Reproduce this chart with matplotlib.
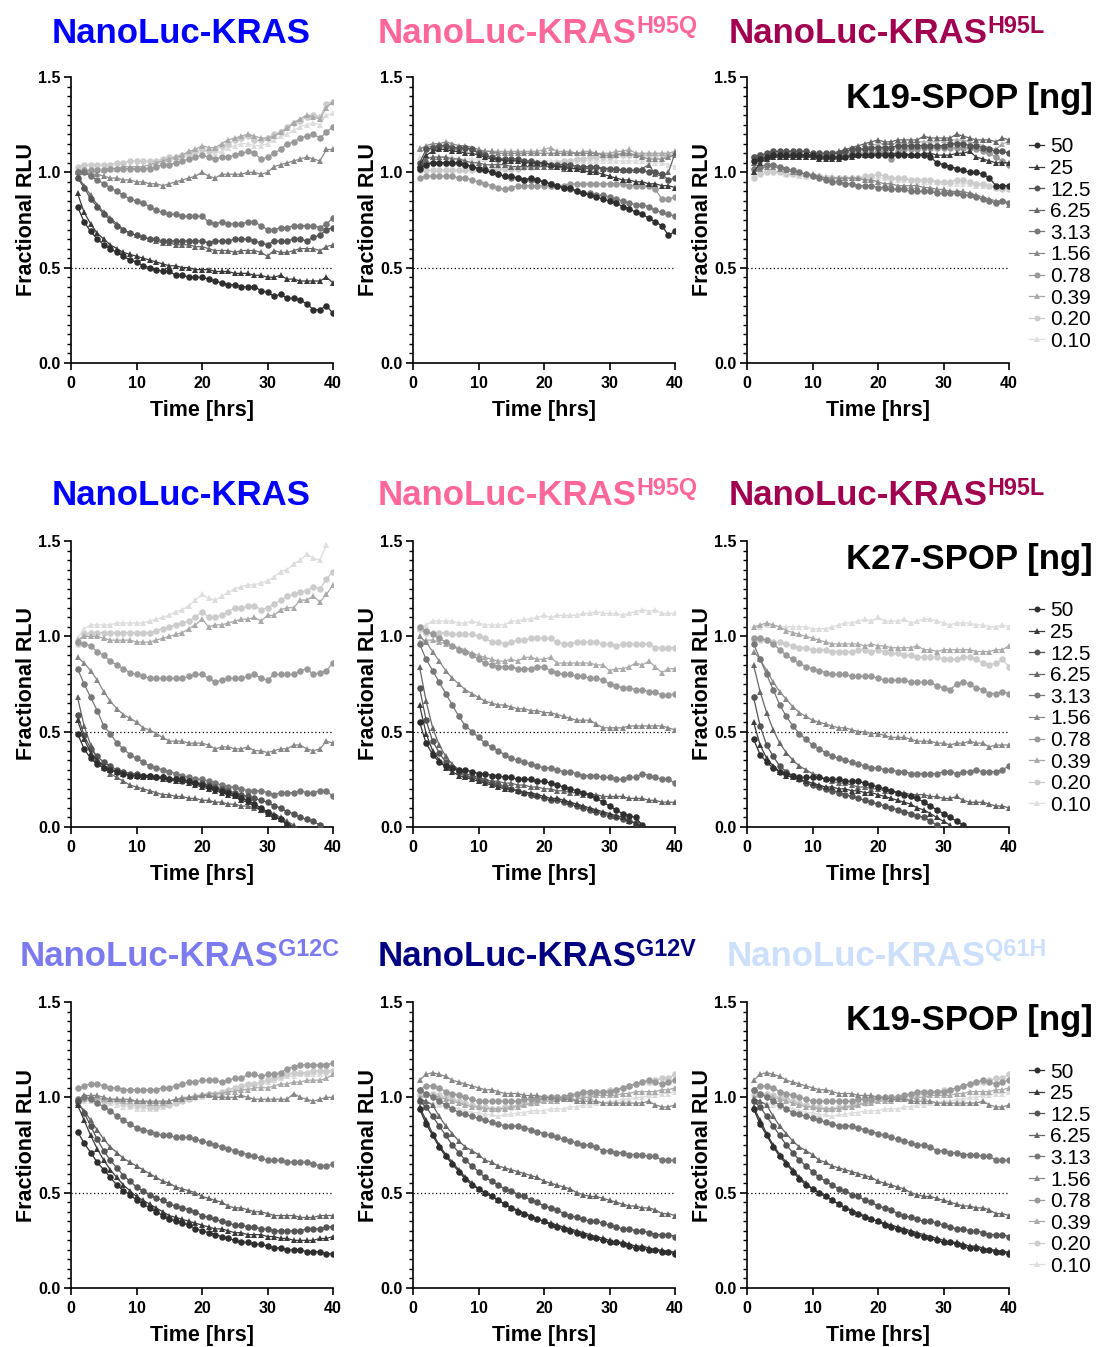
import numpy as np
import matplotlib
matplotlib.use('Agg')
import matplotlib.pyplot as plt
from matplotlib import font_manager
from matplotlib.lines import Line2D
from matplotlib.ticker import MultipleLocator, FormatStrFormatter

NA = np.nan

# K19/K27-SPOP amount per series [ng]
CONC = ['50', '25', '12.5', '6.25', '3.13', '1.56', '0.78', '0.39', '0.20', '0.10']

# Fractional RLU, one reading per hour (t = 1 .. 40), one list per SPOP amount
k19_wt = [
    [0.82, 0.74, 0.69, 0.65, 0.62, 0.60, 0.58, 0.56, 0.54, 0.53, 0.51, 0.50, 0.49, 0.48, 0.48, 0.46, 0.46, 0.45, 0.45, 0.45,
     0.44, 0.43, 0.42, 0.41, 0.41, 0.40, 0.40, 0.40, 0.38, 0.37, 0.35, 0.36, 0.34, 0.34, 0.33, 0.31, 0.28, 0.28, 0.30, 0.26],
    [0.89, 0.79, 0.73, 0.68, 0.65, 0.62, 0.60, 0.58, 0.57, 0.56, 0.55, 0.54, 0.53, 0.52, 0.51, 0.51, 0.50, 0.50, 0.49, 0.49,
     0.49, 0.48, 0.48, 0.48, 0.47, 0.47, 0.47, 0.46, 0.46, 0.45, 0.45, 0.46, 0.44, 0.44, 0.43, 0.43, 0.43, 0.43, 0.45, 0.42],
    [0.97, 0.92, 0.86, 0.82, 0.78, 0.75, 0.72, 0.70, 0.68, 0.67, 0.66, 0.65, 0.65, 0.64, 0.64, 0.64, 0.64, 0.64, 0.64, 0.64,
     0.63, 0.64, 0.64, 0.64, 0.65, 0.65, 0.65, 0.64, 0.63, 0.62, 0.64, 0.64, 0.64, 0.65, 0.65, 0.64, 0.66, 0.67, 0.70, 0.71],
    [0.98, 0.93, 0.88, 0.83, 0.79, 0.76, 0.73, 0.70, 0.68, 0.67, 0.66, 0.65, 0.64, 0.63, 0.63, 0.62, 0.62, 0.62, 0.61, 0.61,
     0.60, 0.59, 0.59, 0.59, 0.58, 0.59, 0.59, 0.59, 0.58, 0.56, 0.59, 0.58, 0.58, 0.59, 0.60, 0.60, 0.60, 0.59, 0.61, 0.62],
    [1.00, 1.00, 0.98, 0.96, 0.94, 0.92, 0.90, 0.88, 0.86, 0.85, 0.84, 0.82, 0.80, 0.79, 0.78, 0.78, 0.77, 0.77, 0.77, 0.77,
     0.74, 0.73, 0.74, 0.73, 0.73, 0.73, 0.74, 0.74, 0.72, 0.70, 0.70, 0.71, 0.71, 0.72, 0.72, 0.72, 0.72, 0.71, 0.73, 0.76],
    [1.00, 1.00, 0.99, 0.99, 0.98, 0.97, 0.97, 0.96, 0.96, 0.95, 0.95, 0.94, 0.94, 0.93, 0.94, 0.95, 0.96, 0.97, 0.98, 1.00,
     0.98, 0.97, 0.99, 0.99, 0.99, 0.99, 1.00, 1.00, 0.99, 1.00, 1.03, 1.04, 1.05, 1.06, 1.07, 1.08, 1.07, 1.06, 1.12, 1.12],
    [1.00, 1.01, 1.01, 1.01, 1.01, 1.02, 1.02, 1.02, 1.02, 1.02, 1.02, 1.02, 1.03, 1.04, 1.04, 1.05, 1.06, 1.07, 1.08, 1.09,
     1.08, 1.07, 1.08, 1.08, 1.09, 1.10, 1.11, 1.10, 1.07, 1.08, 1.10, 1.12, 1.15, 1.16, 1.18, 1.19, 1.20, 1.18, 1.21, 1.24],
    [1.01, 1.01, 1.01, 1.01, 1.01, 1.02, 1.02, 1.03, 1.03, 1.03, 1.03, 1.04, 1.05, 1.06, 1.07, 1.08, 1.09, 1.11, 1.12, 1.14,
     1.13, 1.13, 1.15, 1.17, 1.18, 1.19, 1.20, 1.19, 1.18, 1.18, 1.19, 1.21, 1.23, 1.26, 1.28, 1.30, 1.29, 1.28, 1.34, 1.37],
    [1.03, 1.04, 1.04, 1.04, 1.04, 1.04, 1.05, 1.05, 1.06, 1.06, 1.06, 1.06, 1.06, 1.07, 1.08, 1.08, 1.09, 1.10, 1.11, 1.12,
     1.11, 1.12, 1.14, 1.15, 1.17, 1.18, 1.19, 1.17, 1.17, 1.18, 1.20, 1.21, 1.24, 1.26, 1.27, 1.29, 1.30, 1.29, 1.36, 1.37],
    [0.97, 1.00, 1.01, 1.02, 1.02, 1.02, 1.02, 1.03, 1.03, 1.03, 1.03, 1.04, 1.04, 1.05, 1.06, 1.07, 1.08, 1.09, 1.10, 1.11,
     1.11, 1.10, 1.11, 1.13, 1.14, 1.15, 1.15, 1.14, 1.14, 1.15, 1.17, 1.19, 1.20, 1.22, 1.24, 1.25, 1.26, 1.25, 1.30, 1.31],
]

k19_h95q = [
    [1.02, 1.04, 1.05, 1.05, 1.05, 1.05, 1.05, 1.04, 1.03, 1.02, 1.01, 1.00, 0.99, 0.98, 0.98, 0.97, 0.96, 0.97, 0.96, 0.95,
     0.94, 0.93, 0.92, 0.92, 0.90, 0.89, 0.88, 0.87, 0.86, 0.85, 0.84, 0.82, 0.81, 0.79, 0.78, 0.76, 0.74, 0.72, 0.67, 0.69],
    [1.04, 1.09, 1.11, 1.12, 1.12, 1.11, 1.11, 1.10, 1.10, 1.09, 1.08, 1.07, 1.07, 1.06, 1.06, 1.06, 1.05, 1.05, 1.05, 1.05,
     1.04, 1.03, 1.03, 1.02, 1.02, 1.01, 1.00, 1.00, 0.99, 0.98, 0.97, 0.96, 0.96, 0.95, 0.95, 0.94, 0.94, 0.93, 0.93, 0.92],
    [1.05, 1.12, 1.13, 1.14, 1.14, 1.13, 1.13, 1.13, 1.12, 1.10, 1.09, 1.08, 1.07, 1.07, 1.07, 1.07, 1.06, 1.06, 1.05, 1.05,
     1.04, 1.04, 1.04, 1.04, 1.03, 1.03, 1.03, 1.03, 1.02, 1.02, 1.02, 1.01, 1.01, 1.01, 1.01, 1.00, 1.00, 0.99, 0.96, 0.97],
    [1.04, 1.07, 1.08, 1.08, 1.08, 1.07, 1.07, 1.06, 1.05, 1.05, 1.04, 1.04, 1.04, 1.04, 1.03, 1.03, 1.03, 1.03, 1.03, 1.03,
     1.03, 1.03, 1.02, 1.02, 1.02, 1.02, 1.02, 1.02, 1.02, 1.02, 1.01, 1.01, 1.01, 1.01, 1.02, 1.04, 0.99, 0.98, 1.00, 1.10],
    [1.03, 1.05, 1.05, 1.05, 1.05, 1.05, 1.05, 1.04, 1.03, 1.02, 1.01, 1.00, 0.99, 0.98, 0.97, 0.97, 0.96, 0.96, 0.96, 0.95,
     0.94, 0.93, 0.92, 0.91, 0.90, 0.89, 0.89, 0.88, 0.88, 0.87, 0.86, 0.85, 0.84, 0.83, 0.83, 0.82, 0.80, 0.79, 0.78, 0.77],
    [1.12, 1.14, 1.15, 1.15, 1.16, 1.15, 1.14, 1.14, 1.13, 1.12, 1.11, 1.11, 1.10, 1.10, 1.10, 1.10, 1.10, 1.10, 1.10, 1.10,
     1.10, 1.10, 1.10, 1.10, 1.10, 1.10, 1.10, 1.10, 1.09, 1.09, 1.09, 1.10, 1.10, 1.09, 1.08, 1.07, 1.07, 1.07, 1.08, 1.09],
    [0.97, 0.98, 0.98, 0.98, 0.98, 0.98, 0.97, 0.97, 0.96, 0.95, 0.94, 0.93, 0.92, 0.91, 0.92, 0.93, 0.93, 0.93, 0.93, 0.93,
     0.93, 0.93, 0.93, 0.94, 0.94, 0.94, 0.94, 0.94, 0.94, 0.94, 0.94, 0.94, 0.93, 0.93, 0.93, 0.93, 0.91, 0.86, 0.86, 0.87],
    [1.13, 1.13, 1.14, 1.14, 1.14, 1.13, 1.13, 1.12, 1.12, 1.11, 1.11, 1.11, 1.11, 1.11, 1.11, 1.11, 1.11, 1.11, 1.11, 1.12,
     1.13, 1.11, 1.11, 1.11, 1.10, 1.11, 1.11, 1.10, 1.10, 1.10, 1.11, 1.11, 1.12, 1.10, 1.10, 1.10, 1.10, 1.10, 1.10, 1.11],
    [1.01, 1.01, 1.01, 1.01, 1.01, 1.01, 1.01, 1.01, 1.01, 1.01, 1.01, 1.01, 1.02, 1.02, 1.02, 1.02, 1.03, 1.03, 1.04, 1.04,
     1.04, 1.05, 1.06, 1.06, 1.07, 1.07, 1.08, 1.08, 1.08, 1.08, 1.09, 1.09, 1.09, 1.09, 1.09, 1.09, 1.09, 1.09, 1.09, 1.10],
    [1.08, 1.08, 1.08, 1.08, 1.08, 1.08, 1.07, 1.07, 1.07, 1.07, 1.07, 1.07, 1.06, 1.06, 1.06, 1.06, 1.06, 1.06, 1.06, 1.06,
     1.06, 1.06, 1.06, 1.06, 1.06, 1.06, 1.06, 1.06, 1.06, 1.06, 1.06, 1.06, 1.06, 1.06, 1.06, 1.06, 1.05, 1.05, 1.04, 1.03],
]

k19_h95l = [
    [1.06, 1.07, 1.08, 1.09, 1.09, 1.09, 1.09, 1.09, 1.09, 1.09, 1.08, 1.08, 1.08, 1.08, 1.08, 1.09, 1.09, 1.09, 1.09, 1.09,
     1.09, 1.09, 1.09, 1.09, 1.09, 1.09, 1.09, 1.08, 1.05, 1.04, 1.03, 1.02, 1.01, 1.00, 1.00, 0.99, 0.97, 0.93, 0.93, 0.93],
    [1.00, 1.05, 1.07, 1.08, 1.08, 1.08, 1.08, 1.08, 1.08, 1.08, 1.07, 1.07, 1.07, 1.07, 1.08, 1.08, 1.09, 1.09, 1.09, 1.10,
     1.10, 1.10, 1.10, 1.10, 1.09, 1.09, 1.10, 1.10, 1.09, 1.09, 1.09, 1.10, 1.10, 1.11, 1.08, 1.07, 1.06, 1.05, 1.05, 1.05],
    [1.08, 1.09, 1.10, 1.11, 1.11, 1.11, 1.11, 1.11, 1.11, 1.10, 1.10, 1.10, 1.10, 1.10, 1.11, 1.12, 1.12, 1.12, 1.13, 1.13,
     1.13, 1.13, 1.14, 1.14, 1.14, 1.14, 1.14, 1.14, 1.14, 1.14, 1.15, 1.15, 1.15, 1.14, 1.14, 1.13, 1.12, 1.11, 1.11, 1.10],
    [1.05, 1.07, 1.08, 1.09, 1.09, 1.09, 1.09, 1.09, 1.09, 1.09, 1.09, 1.09, 1.10, 1.11, 1.12, 1.13, 1.14, 1.15, 1.16, 1.17,
     1.16, 1.16, 1.17, 1.17, 1.17, 1.17, 1.19, 1.18, 1.18, 1.18, 1.18, 1.20, 1.19, 1.18, 1.17, 1.17, 1.17, 1.16, 1.18, 1.17],
    [1.02, 1.03, 1.04, 1.04, 1.03, 1.02, 1.01, 1.00, 0.99, 0.98, 0.97, 0.96, 0.95, 0.95, 0.94, 0.94, 0.93, 0.93, 0.93, 0.92,
     0.92, 0.91, 0.91, 0.91, 0.90, 0.90, 0.90, 0.90, 0.89, 0.89, 0.89, 0.89, 0.88, 0.88, 0.87, 0.86, 0.85, 0.84, 0.85, 0.84],
    [1.00, 1.02, 1.03, 1.03, 1.02, 1.01, 1.00, 1.00, 0.99, 0.99, 0.98, 0.97, 0.97, 0.97, 0.97, 0.97, 0.97, 0.96, 0.96, 0.95,
     0.94, 0.94, 0.93, 0.93, 0.93, 0.93, 0.92, 0.92, 0.91, 0.91, 0.90, 0.90, 0.90, 0.89, 0.88, 0.87, 0.86, 0.85, 0.85, 0.83],
    [1.08, 1.09, 1.09, 1.10, 1.10, 1.10, 1.10, 1.10, 1.09, 1.09, 1.08, 1.08, 1.08, 1.08, 1.09, 1.10, 1.10, 1.10, 1.10, 1.11,
     1.11, 1.07, 1.11, 1.12, 1.12, 1.12, 1.13, 1.13, 1.13, 1.13, 1.13, 1.13, 1.13, 1.13, 1.12, 1.11, 1.10, 1.08, 1.06, 1.04],
    [1.03, 1.06, 1.07, 1.08, 1.08, 1.08, 1.08, 1.08, 1.08, 1.08, 1.08, 1.08, 1.08, 1.09, 1.10, 1.11, 1.12, 1.13, 1.14, 1.15,
     1.15, 1.15, 1.15, 1.15, 1.15, 1.16, 1.16, 1.16, 1.16, 1.17, 1.17, 1.17, 1.17, 1.16, 1.15, 1.14, 1.13, 1.12, 1.15, 1.16],
    [0.97, 0.99, 1.00, 1.00, 1.00, 0.99, 0.99, 0.99, 0.98, 0.98, 0.98, 0.97, 0.97, 0.97, 0.97, 0.97, 0.97, 0.98, 0.98, 0.99,
     0.98, 0.97, 0.97, 0.97, 0.96, 0.96, 0.96, 0.96, 0.95, 0.95, 0.95, 0.96, 0.96, 0.95, 0.94, 0.94, 0.93, 0.92, 0.91, 0.91],
    [0.99, 1.00, 1.01, 1.01, 1.00, 0.99, 0.99, 0.98, 0.98, 0.98, 0.98, 0.98, 0.98, 0.97, 0.97, 0.97, 0.97, 0.97, 0.97, 0.97,
     0.97, 0.96, 0.96, 0.96, 0.96, 0.95, 0.95, 0.95, 0.95, 0.95, 0.94, 0.94, 0.94, 0.94, 0.93, 0.93, 0.93, 0.92, 0.92, 0.91],
]

# below 0.0 the readings fall off the axis
k27_wt = [
    [0.49, 0.41, 0.36, 0.33, 0.31, 0.30, 0.29, 0.28, 0.27, 0.27, 0.27, 0.27, 0.26, 0.26, 0.25, 0.25, 0.25, 0.24, 0.23, 0.22,
     0.21, 0.20, 0.19, 0.18, 0.17, 0.15, 0.14, 0.12, 0.10, 0.08, 0.06, 0.04, 0.01] + [NA] * 7,
    [0.56, 0.46, 0.39, 0.35, 0.32, 0.30, 0.29, 0.28, 0.27, 0.27, 0.26, 0.26, 0.26, 0.25, 0.25, 0.24, 0.24, 0.23, 0.22, 0.21,
     0.20, 0.19, 0.18, 0.17, 0.16, 0.14, 0.13, 0.11, 0.09, 0.07, 0.05, 0.04, 0.02, 0.00] + [NA] * 6,
    [0.59, 0.48, 0.41, 0.37, 0.34, 0.32, 0.30, 0.29, 0.28, 0.28, 0.27, 0.27, 0.26, 0.26, 0.25, 0.25, 0.24, 0.24, 0.23, 0.23,
     0.22, 0.21, 0.20, 0.19, 0.18, 0.17, 0.16, 0.15, 0.14, 0.13, 0.11, 0.10, 0.08, 0.07, 0.05, 0.04, 0.03, 0.01, NA, NA],
    [0.68, 0.53, 0.43, 0.36, 0.31, 0.28, 0.26, 0.24, 0.22, 0.21, 0.20, 0.19, 0.18, 0.17, 0.17, 0.16, 0.16, 0.15, 0.15, 0.14,
     0.14, 0.13, 0.13, 0.12, 0.12, 0.11, 0.11, 0.10, 0.09, 0.08, 0.07, 0.05, 0.03, 0.01] + [NA] * 6,
    [0.83, 0.75, 0.68, 0.61, 0.53, 0.49, 0.44, 0.41, 0.38, 0.36, 0.34, 0.32, 0.31, 0.30, 0.29, 0.28, 0.27, 0.26, 0.25, 0.25,
     0.24, 0.23, 0.22, 0.21, 0.21, 0.20, 0.19, 0.19, 0.19, 0.18, 0.17, 0.18, 0.18, 0.18, 0.19, 0.18, 0.18, 0.19, 0.19, 0.16],
    [0.89, 0.86, 0.82, 0.77, 0.71, 0.66, 0.62, 0.59, 0.57, 0.55, 0.52, 0.51, 0.49, 0.47, 0.45, 0.45, 0.45, 0.44, 0.44, 0.44,
     0.43, 0.41, 0.42, 0.42, 0.41, 0.41, 0.42, 0.40, 0.40, 0.39, 0.40, 0.41, 0.41, 0.43, 0.43, 0.41, 0.40, 0.41, 0.45, 0.44],
    [0.97, 0.96, 0.95, 0.92, 0.90, 0.87, 0.85, 0.83, 0.81, 0.80, 0.79, 0.78, 0.78, 0.78, 0.78, 0.78, 0.78, 0.79, 0.80, 0.80,
     0.78, 0.76, 0.77, 0.78, 0.78, 0.78, 0.79, 0.80, 0.78, 0.77, 0.80, 0.80, 0.80, 0.80, 0.82, 0.83, 0.80, 0.81, 0.82, 0.86],
    [0.98, 1.00, 1.00, 1.00, 0.99, 0.98, 0.98, 0.98, 0.98, 0.97, 0.97, 0.97, 0.98, 0.99, 1.00, 1.01, 1.02, 1.04, 1.06, 1.09,
     1.05, 1.06, 1.06, 1.07, 1.08, 1.09, 1.09, 1.10, 1.08, 1.11, 1.11, 1.14, 1.15, 1.15, 1.19, 1.19, 1.21, 1.18, 1.22, 1.27],
    [0.96, 1.01, 1.02, 1.02, 1.02, 1.02, 1.02, 1.02, 1.02, 1.02, 1.02, 1.02, 1.03, 1.04, 1.05, 1.06, 1.07, 1.08, 1.10, 1.13,
     1.10, 1.10, 1.11, 1.13, 1.15, 1.15, 1.16, 1.16, 1.14, 1.15, 1.17, 1.19, 1.21, 1.22, 1.23, 1.24, 1.26, 1.25, 1.30, 1.34],
    [0.99, 1.04, 1.06, 1.06, 1.06, 1.06, 1.07, 1.07, 1.07, 1.07, 1.07, 1.08, 1.09, 1.10, 1.11, 1.13, 1.14, 1.16, 1.19, 1.22,
     1.20, 1.19, 1.21, 1.23, 1.25, 1.26, 1.27, 1.27, 1.28, 1.29, 1.31, 1.34, 1.35, 1.38, 1.40, 1.43, 1.41, 1.40, 1.48, NA],
]

k27_h95q = [
    [0.55, 0.44, 0.38, 0.34, 0.32, 0.31, 0.30, 0.30, 0.29, 0.28, 0.28, 0.27, 0.27, 0.26, 0.26, 0.25, 0.25, 0.25, 0.24, 0.24,
     0.23, 0.22, 0.21, 0.20, 0.19, 0.18, 0.17, 0.15, 0.13, 0.11, 0.09, 0.07, 0.06, 0.05, 0.01] + [NA] * 5,
    [0.64, 0.49, 0.40, 0.35, 0.31, 0.29, 0.27, 0.26, 0.25, 0.24, 0.23, 0.22, 0.21, 0.20, 0.20, 0.19, 0.18, 0.18, 0.17, 0.16,
     0.15, 0.15, 0.14, 0.13, 0.12, 0.11, 0.10, 0.09, 0.08, 0.07, 0.06, 0.05, 0.03, 0.02, 0.00] + [NA] * 5,
    [0.73, 0.56, 0.45, 0.39, 0.34, 0.31, 0.29, 0.27, 0.26, 0.25, 0.24, 0.23, 0.22, 0.21, 0.20, 0.19, 0.18, 0.17, 0.16, 0.15,
     0.14, 0.14, 0.13, 0.12, 0.11, 0.10, 0.09, 0.08, 0.07, 0.06, 0.05, 0.04, 0.03, 0.02] + [NA] * 6,
    [0.84, 0.66, 0.52, 0.43, 0.37, 0.33, 0.30, 0.28, 0.27, 0.26, 0.25, 0.24, 0.24, 0.23, 0.23, 0.22, 0.22, 0.21, 0.21, 0.20,
     0.20, 0.19, 0.19, 0.18, 0.18, 0.17, 0.17, 0.17, 0.16, 0.16, 0.16, 0.16, 0.15, 0.15, 0.15, 0.14, 0.14, 0.13, 0.13, 0.13],
    [0.96, 0.88, 0.82, 0.76, 0.70, 0.64, 0.58, 0.53, 0.50, 0.47, 0.44, 0.42, 0.40, 0.38, 0.36, 0.35, 0.34, 0.33, 0.32, 0.31,
     0.31, 0.30, 0.29, 0.29, 0.28, 0.27, 0.27, 0.27, 0.26, 0.26, 0.25, 0.25, 0.26, 0.26, 0.28, 0.27, 0.26, 0.25, 0.25, 0.23],
    [1.00, 0.97, 0.92, 0.87, 0.82, 0.78, 0.75, 0.72, 0.70, 0.68, 0.66, 0.65, 0.64, 0.64, 0.63, 0.62, 0.62, 0.61, 0.61, 0.60,
     0.60, 0.59, 0.58, 0.57, 0.56, 0.56, 0.56, 0.54, 0.52, 0.52, 0.52, 0.52, 0.53, 0.53, 0.53, 0.53, 0.53, 0.53, 0.52, 0.51],
    [1.05, 1.03, 1.01, 0.99, 0.97, 0.95, 0.93, 0.92, 0.90, 0.88, 0.86, 0.85, 0.84, 0.84, 0.84, 0.83, 0.83, 0.83, 0.84, 0.84,
     0.82, 0.81, 0.80, 0.80, 0.79, 0.79, 0.78, 0.78, 0.77, 0.75, 0.74, 0.73, 0.73, 0.72, 0.72, 0.71, 0.71, 0.69, 0.69, 0.70],
    [0.97, 0.98, 0.98, 0.97, 0.96, 0.95, 0.94, 0.93, 0.91, 0.90, 0.89, 0.88, 0.87, 0.87, 0.88, 0.87, 0.89, 0.89, 0.88, 0.88,
     0.89, 0.86, 0.86, 0.86, 0.86, 0.86, 0.86, 0.85, 0.85, 0.82, 0.83, 0.83, 0.84, 0.86, 0.85, 0.87, 0.84, 0.81, 0.83, 0.83],
    [1.04, 1.02, 1.02, 1.02, 1.02, 1.01, 1.01, 1.01, 1.01, 1.00, 0.99, 0.97, 0.97, 0.96, 0.97, 0.98, 0.98, 0.99, 0.99, 0.99,
     0.99, 0.97, 0.96, 0.96, 0.97, 0.97, 0.97, 0.97, 0.96, 0.96, 0.95, 0.96, 0.96, 0.96, 0.96, 0.96, 0.94, 0.94, 0.94, 0.94],
    [1.04, 1.06, 1.08, 1.08, 1.08, 1.08, 1.07, 1.07, 1.08, 1.07, 1.06, 1.06, 1.06, 1.06, 1.08, 1.08, 1.09, 1.09, 1.10, 1.11,
     1.10, 1.11, 1.11, 1.11, 1.11, 1.12, 1.12, 1.13, 1.12, 1.12, 1.12, 1.11, 1.12, 1.13, 1.14, 1.13, 1.14, 1.12, 1.12, 1.12],
]

k27_h95l = [
    [0.46, 0.38, 0.34, 0.31, 0.29, 0.28, 0.27, 0.26, 0.26, 0.26, 0.26, 0.25, 0.25, 0.25, 0.24, 0.24, 0.24, 0.23, 0.22, 0.21,
     0.20, 0.19, 0.18, 0.17, 0.16, 0.15, 0.13, 0.11, 0.09, 0.07, 0.05, 0.03, 0.01] + [NA] * 7,
    [0.55, 0.43, 0.36, 0.32, 0.29, 0.27, 0.26, 0.25, 0.24, 0.23, 0.22, 0.21, 0.21, 0.20, 0.20, 0.19, 0.19, 0.18, 0.18, 0.17,
     0.16, 0.15, 0.14, 0.13, 0.12, 0.10, 0.09, 0.07, 0.05, 0.03, 0.01] + [NA] * 9,
    [0.68, 0.53, 0.43, 0.37, 0.32, 0.29, 0.27, 0.25, 0.23, 0.22, 0.21, 0.20, 0.19, 0.18, 0.17, 0.16, 0.15, 0.14, 0.13, 0.12,
     0.11, 0.10, 0.09, 0.08, 0.07, 0.06, 0.05, 0.03, 0.01] + [NA] * 11,
    [0.85, 0.71, 0.60, 0.51, 0.44, 0.39, 0.35, 0.32, 0.30, 0.28, 0.27, 0.25, 0.24, 0.23, 0.23, 0.22, 0.21, 0.21, 0.20, 0.20,
     0.19, 0.19, 0.18, 0.18, 0.17, 0.17, 0.17, 0.16, 0.16, 0.15, 0.15, 0.16, 0.14, 0.13, 0.13, 0.13, 0.12, 0.11, 0.11, 0.10],
    [0.96, 0.88, 0.80, 0.72, 0.64, 0.58, 0.53, 0.49, 0.46, 0.43, 0.41, 0.39, 0.37, 0.36, 0.35, 0.34, 0.33, 0.32, 0.31, 0.31,
     0.30, 0.30, 0.29, 0.29, 0.28, 0.28, 0.28, 0.28, 0.28, 0.29, 0.29, 0.28, 0.29, 0.29, 0.30, 0.29, 0.29, 0.29, 0.30, 0.32],
    [0.92, 0.88, 0.82, 0.76, 0.71, 0.67, 0.63, 0.60, 0.58, 0.56, 0.55, 0.54, 0.53, 0.52, 0.52, 0.51, 0.50, 0.50, 0.49, 0.49,
     0.48, 0.47, 0.47, 0.47, 0.46, 0.45, 0.45, 0.45, 0.44, 0.44, 0.43, 0.44, 0.44, 0.45, 0.44, 0.44, 0.42, 0.43, 0.43, 0.43],
    [0.99, 0.99, 0.98, 0.96, 0.93, 0.90, 0.88, 0.86, 0.84, 0.83, 0.82, 0.81, 0.80, 0.80, 0.80, 0.79, 0.79, 0.79, 0.79, 0.78,
     0.77, 0.77, 0.77, 0.77, 0.76, 0.76, 0.76, 0.76, 0.74, 0.73, 0.72, 0.75, 0.76, 0.75, 0.73, 0.72, 0.70, 0.70, 0.71, 0.70],
    [1.05, 1.06, 1.07, 1.06, 1.05, 1.03, 1.02, 1.01, 1.00, 0.99, 0.98, 0.97, 0.96, 0.96, 0.96, 0.96, 0.96, 0.95, 0.96, 0.95,
     0.95, 0.94, 0.94, 0.94, 0.94, 0.95, 0.93, 0.93, 0.92, 0.93, 0.93, 0.93, 0.93, 0.93, 0.92, 0.92, 0.92, 0.93, 0.93, 0.95],
    [0.98, 0.98, 0.98, 0.97, 0.97, 0.96, 0.95, 0.94, 0.94, 0.93, 0.93, 0.93, 0.92, 0.92, 0.92, 0.92, 0.93, 0.93, 0.92, 0.93,
     0.92, 0.91, 0.91, 0.90, 0.90, 0.89, 0.89, 0.89, 0.89, 0.88, 0.88, 0.88, 0.89, 0.89, 0.88, 0.86, 0.85, 0.86, 0.88, 0.84],
    [1.05, 1.05, 1.06, 1.06, 1.05, 1.05, 1.05, 1.05, 1.05, 1.04, 1.04, 1.04, 1.05, 1.06, 1.07, 1.07, 1.08, 1.09, 1.08, 1.10,
     1.08, 1.08, 1.08, 1.09, 1.07, 1.08, 1.09, 1.09, 1.08, 1.07, 1.06, 1.07, 1.07, 1.07, 1.06, 1.06, 1.05, 1.05, 1.06, 1.05],
]

k19_g12c = [
    [0.82, 0.76, 0.71, 0.66, 0.62, 0.58, 0.54, 0.51, 0.49, 0.46, 0.44, 0.42, 0.40, 0.38, 0.36, 0.35, 0.34, 0.33, 0.31, 0.30,
     0.29, 0.28, 0.27, 0.26, 0.25, 0.24, 0.24, 0.23, 0.23, 0.22, 0.21, 0.21, 0.20, 0.20, 0.20, 0.19, 0.19, 0.19, 0.18, 0.18],
    [0.96, 0.88, 0.80, 0.73, 0.67, 0.62, 0.58, 0.54, 0.51, 0.48, 0.46, 0.44, 0.42, 0.40, 0.38, 0.37, 0.36, 0.35, 0.34, 0.33,
     0.32, 0.31, 0.31, 0.30, 0.29, 0.29, 0.28, 0.28, 0.28, 0.27, 0.27, 0.26, 0.26, 0.25, 0.25, 0.25, 0.25, 0.26, 0.26, 0.27],
    [0.98, 0.92, 0.85, 0.78, 0.72, 0.67, 0.63, 0.59, 0.56, 0.53, 0.51, 0.49, 0.47, 0.46, 0.44, 0.43, 0.42, 0.41, 0.40, 0.38,
     0.37, 0.36, 0.35, 0.34, 0.33, 0.33, 0.32, 0.32, 0.31, 0.31, 0.30, 0.30, 0.30, 0.30, 0.30, 0.31, 0.31, 0.31, 0.32, 0.32],
    [0.97, 0.93, 0.88, 0.83, 0.78, 0.74, 0.71, 0.68, 0.66, 0.64, 0.62, 0.60, 0.58, 0.56, 0.55, 0.53, 0.52, 0.51, 0.50, 0.48,
     0.47, 0.46, 0.45, 0.43, 0.42, 0.42, 0.41, 0.40, 0.40, 0.39, 0.38, 0.38, 0.38, 0.38, 0.37, 0.37, 0.37, 0.38, 0.38, 0.38],
    [0.99, 1.00, 0.99, 0.97, 0.95, 0.93, 0.90, 0.88, 0.86, 0.84, 0.83, 0.82, 0.81, 0.80, 0.80, 0.79, 0.79, 0.79, 0.78, 0.77,
     0.76, 0.75, 0.74, 0.73, 0.72, 0.71, 0.70, 0.69, 0.68, 0.67, 0.67, 0.67, 0.66, 0.66, 0.66, 0.66, 0.65, 0.64, 0.64, 0.65],
    [0.98, 1.01, 1.01, 1.01, 1.00, 0.99, 0.99, 0.99, 0.99, 0.98, 0.98, 0.98, 0.98, 0.98, 0.98, 0.99, 0.99, 1.00, 1.00, 1.01,
     1.01, 1.00, 1.00, 1.00, 1.00, 1.01, 1.00, 0.99, 0.99, 0.99, 0.99, 0.99, 0.99, 1.02, 1.00, 0.99, 0.98, 0.99, 1.00, 1.00],
    [1.05, 1.06, 1.07, 1.07, 1.06, 1.05, 1.05, 1.04, 1.04, 1.04, 1.04, 1.04, 1.04, 1.05, 1.05, 1.06, 1.07, 1.08, 1.08, 1.09,
     1.09, 1.09, 1.08, 1.09, 1.10, 1.10, 1.12, 1.12, 1.11, 1.12, 1.12, 1.13, 1.15, 1.16, 1.17, 1.17, 1.17, 1.17, 1.17, 1.18],
    [0.99, 0.99, 1.00, 1.00, 0.99, 0.99, 0.99, 0.98, 0.98, 0.98, 0.98, 0.97, 0.97, 0.97, 0.98, 0.99, 1.00, 1.00, 1.01, 1.01,
     1.02, 1.02, 1.02, 1.03, 1.03, 1.04, 1.04, 1.05, 1.05, 1.05, 1.06, 1.07, 1.07, 1.08, 1.08, 1.09, 1.09, 1.09, 1.10, 1.12],
    [0.98, 0.99, 0.99, 0.99, 0.98, 0.98, 0.98, 0.97, 0.96, 0.96, 0.96, 0.95, 0.95, 0.96, 0.96, 0.97, 0.98, 0.99, 1.00, 1.01,
     1.02, 1.02, 1.03, 1.04, 1.05, 1.06, 1.07, 1.07, 1.08, 1.09, 1.10, 1.11, 1.12, 1.13, 1.13, 1.13, 1.14, 1.14, 1.14, 1.14],
    [0.97, 0.98, 0.98, 0.98, 0.97, 0.97, 0.96, 0.95, 0.95, 0.94, 0.94, 0.94, 0.94, 0.95, 0.96, 0.97, 0.98, 0.99, 1.00, 1.00,
     1.01, 1.02, 1.03, 1.04, 1.05, 1.05, 1.06, 1.07, 1.07, 1.08, 1.09, 1.10, 1.11, 1.11, 1.12, 1.12, 1.12, 1.12, 1.13, 1.13],
]

k19_g12v = [
    [0.94, 0.86, 0.80, 0.74, 0.69, 0.65, 0.61, 0.57, 0.54, 0.52, 0.50, 0.48, 0.46, 0.44, 0.42, 0.40, 0.39, 0.37, 0.36, 0.35,
     0.33, 0.32, 0.31, 0.30, 0.29, 0.28, 0.27, 0.26, 0.25, 0.24, 0.24, 0.23, 0.22, 0.21, 0.21, 0.20, 0.20, 0.19, 0.19, 0.18],
    [0.95, 0.88, 0.81, 0.75, 0.70, 0.66, 0.62, 0.58, 0.55, 0.52, 0.50, 0.48, 0.46, 0.44, 0.42, 0.41, 0.39, 0.38, 0.36, 0.35,
     0.34, 0.33, 0.32, 0.31, 0.30, 0.29, 0.28, 0.27, 0.26, 0.25, 0.24, 0.24, 0.23, 0.22, 0.22, 0.21, 0.20, 0.20, 0.19, 0.19],
    [0.98, 0.95, 0.90, 0.85, 0.80, 0.75, 0.71, 0.67, 0.64, 0.61, 0.58, 0.56, 0.54, 0.52, 0.51, 0.49, 0.48, 0.46, 0.45, 0.43,
     0.42, 0.41, 0.39, 0.38, 0.37, 0.36, 0.35, 0.35, 0.34, 0.33, 0.32, 0.31, 0.31, 0.30, 0.30, 0.29, 0.28, 0.28, 0.28, 0.27],
    [0.99, 0.98, 0.96, 0.90, 0.85, 0.81, 0.77, 0.74, 0.72, 0.70, 0.67, 0.66, 0.64, 0.63, 0.62, 0.61, 0.60, 0.59, 0.58, 0.56,
     0.55, 0.54, 0.53, 0.52, 0.50, 0.49, 0.48, 0.48, 0.47, 0.46, 0.45, 0.44, 0.43, 0.43, 0.42, 0.42, 0.41, 0.39, 0.39, 0.38],
    [1.04, 1.02, 1.00, 0.98, 0.96, 0.94, 0.92, 0.91, 0.90, 0.89, 0.88, 0.87, 0.86, 0.85, 0.85, 0.85, 0.84, 0.83, 0.82, 0.81,
     0.80, 0.79, 0.78, 0.77, 0.76, 0.75, 0.75, 0.74, 0.72, 0.72, 0.71, 0.71, 0.70, 0.70, 0.70, 0.69, 0.69, 0.67, 0.67, 0.67],
    [1.09, 1.12, 1.13, 1.12, 1.11, 1.09, 1.08, 1.07, 1.06, 1.05, 1.04, 1.04, 1.03, 1.02, 1.02, 1.02, 1.01, 1.01, 1.01, 1.00,
     1.00, 0.99, 0.99, 0.99, 0.98, 0.98, 0.98, 0.98, 0.97, 0.97, 0.97, 0.97, 0.97, 0.97, 0.97, 0.98, 0.96, 0.95, 0.95, 0.96],
    [1.04, 1.06, 1.06, 1.05, 1.03, 1.02, 1.01, 1.00, 0.99, 0.98, 0.98, 0.98, 0.98, 0.98, 0.98, 0.98, 0.99, 0.99, 0.99, 1.00,
     1.00, 1.00, 1.00, 1.01, 1.02, 1.03, 1.03, 1.03, 1.03, 1.03, 1.04, 1.05, 1.06, 1.07, 1.08, 1.09, 1.08, 1.07, 1.08, 1.09],
    [1.00, 1.01, 1.01, 1.00, 0.99, 0.98, 0.97, 0.96, 0.95, 0.95, 0.94, 0.94, 0.94, 0.94, 0.95, 0.95, 0.96, 0.97, 0.97, 0.98,
     0.98, 0.98, 0.99, 0.99, 0.99, 1.00, 1.00, 1.01, 1.01, 1.01, 1.01, 1.02, 1.02, 1.03, 1.03, 1.03, 1.03, 1.04, 1.04, 1.05],
    [1.01, 1.02, 1.02, 1.01, 1.00, 0.99, 0.98, 0.97, 0.96, 0.95, 0.95, 0.94, 0.94, 0.95, 0.95, 0.96, 0.97, 0.97, 0.98, 0.99,
     0.99, 1.00, 1.00, 1.00, 1.01, 1.02, 1.02, 1.03, 1.03, 1.04, 1.04, 1.05, 1.06, 1.07, 1.08, 1.08, 1.09, 1.10, 1.10, 1.12],
    [0.98, 0.97, 0.97, 0.96, 0.95, 0.95, 0.94, 0.93, 0.92, 0.92, 0.91, 0.91, 0.90, 0.91, 0.91, 0.92, 0.92, 0.93, 0.93, 0.93,
     0.94, 0.94, 0.94, 0.95, 0.95, 0.96, 0.96, 0.97, 0.97, 0.98, 0.98, 0.99, 0.99, 1.00, 1.00, 1.01, 1.01, 1.02, 1.02, 1.03],
]

# the Q61H panel shows the same curves as G12V
k19_q61h = k19_g12v

PANELS = [
    [(k19_wt, 'NanoLuc-KRAS', '', '#0000ff'),
     (k19_h95q, 'NanoLuc-KRAS', 'H95Q', '#ff6699'),
     (k19_h95l, 'NanoLuc-KRAS', 'H95L', '#a0004f')],
    [(k27_wt, 'NanoLuc-KRAS', '', '#0000ff'),
     (k27_h95q, 'NanoLuc-KRAS', 'H95Q', '#ff6699'),
     (k27_h95l, 'NanoLuc-KRAS', 'H95L', '#a0004f')],
    [(k19_g12c, 'NanoLuc-KRAS', 'G12C', '#7b7bef'),
     (k19_g12v, 'NanoLuc-KRAS', 'G12V', '#000080'),
     (k19_q61h, 'NanoLuc-KRAS', 'Q61H', '#cce0fb')],
]
SPOP_TITLES = ['K19-SPOP [ng]', 'K27-SPOP [ng]', 'K19-SPOP [ng]']

GREYS = ['#2e2e2e', '#3a3a3a', '#555555', '#666666', '#777777',
         '#888888', '#999999', '#aaaaaa', '#cccccc', '#dddddd']
MARKERS = ['o', '^'] * 5

SANS = ['Liberation Sans', 'DejaVu Sans']
installed = {f.name for f in font_manager.fontManager.ttflist}
if 'Liberation Sans Narrow' in installed:
    NARROW = ['Liberation Sans Narrow', 'Liberation Sans', 'DejaVu Sans']
else:
    NARROW = SANS
plt.rcParams['font.family'] = SANS

# layout in pixels of the 1097 x 1347 canvas
W, H = 1097, 1347
COL_X = [71, 413, 747]
ROW_TOP = [77, 541, 1002]
AX_W, AX_H = 262, 286
TITLE_X = [[52, 378, 729], [52, 378, 729], [20, 378, 727]]
TITLE_Y = [43, 505, 966]
SPOP_Y = [108, 569, 1030]
# widths the headings take in the reference
TITLE_W, SUP_W, SPOP_W = 258, 61, 246


def fx(px):
    return px / W


def fy(py):
    return 1 - py / H


fig = plt.figure(figsize=(W / 100, H / 100), dpi=100)
renderer = fig.canvas.get_renderer()


def fit_width(txt, width_px):
    bb = txt.get_window_extent(renderer)
    txt.set_fontsize(txt.get_fontsize() * width_px / bb.width)
    return txt.get_fontsize()


# font sizes that give the heading widths of the reference
probe = fig.text(0, 0, 'NanoLuc-KRAS', fontsize=30, fontweight='bold', family=NARROW)
title_fs = fit_width(probe, TITLE_W)
probe.set_text('H95Q')
probe.set_fontsize(20)
sup_fs = fit_width(probe, SUP_W)
probe.set_text('K19-SPOP [ng]')
probe.set_fontsize(30)
spop_fs = fit_width(probe, SPOP_W)
probe.remove()

for r in range(3):
    for c in range(3):
        data, name, sup, color = PANELS[r][c]
        ax = fig.add_axes([fx(COL_X[c]), fy(ROW_TOP[r] + AX_H), AX_W / W, AX_H / H])

        # lightest first so the high doses sit on top
        for i in reversed(range(len(CONC))):
            vals = np.array(data[i], dtype=float)
            hrs = np.arange(1, len(vals) + 1)
            ax.plot(hrs, vals, color=GREYS[i], lw=0.9, marker=MARKERS[i],
                    ms=4.7, mew=0, zorder=3 + (10 - i))

        ax.axhline(0.5, color='black', lw=0.9, ls=(0, (1, 2)), zorder=2)

        ax.set_xlim(0, 40)
        ax.set_ylim(0, 1.5)
        ax.set_xticks([0, 10, 20, 30, 40])
        ax.set_yticks([0, 0.5, 1.0, 1.5])
        ax.yaxis.set_minor_locator(MultipleLocator(0.05))
        ax.yaxis.set_major_formatter(FormatStrFormatter('%.1f'))
        for side in ('top', 'right'):
            ax.spines[side].set_visible(False)
        for side in ('left', 'bottom'):
            ax.spines[side].set_linewidth(1.2)
        ax.tick_params(which='major', direction='out', length=5, width=1.2, pad=2.5,
                       labelsize=11.5)
        ax.tick_params(axis='x', which='major', pad=4.5)
        ax.tick_params(which='minor', direction='out', length=3, width=1.0)
        for lab in ax.get_xticklabels() + ax.get_yticklabels():
            lab.set_fontweight('bold')

        ax.set_xlabel('Time [hrs]', fontsize=15.5, fontweight='bold')
        ax.set_ylabel('Fractional RLU', fontsize=15.5, fontweight='bold')
        ax.xaxis.set_label_coords(0.5, -0.13)
        ax.yaxis.set_label_coords(-0.13, 0.5)

        title = fig.text(fx(TITLE_X[r][c]), fy(TITLE_Y[r]), name, color=color,
                         fontsize=title_fs, fontweight='bold', family=NARROW,
                         ha='left', va='baseline')
        if sup:
            ax.annotate(sup, xy=(1, 1), xycoords=title, xytext=(-0.5, 1.5),
                        textcoords='offset points', ha='left', va='top',
                        color=color, fontsize=sup_fs, fontweight='bold',
                        family=NARROW, annotation_clip=False)

        if c == 2:
            fig.text(fx(1093), fy(SPOP_Y[r]), SPOP_TITLES[r], color='black',
                     fontsize=spop_fs, fontweight='bold', family=NARROW,
                     ha='right', va='baseline')
            for i, conc in enumerate(CONC):
                y = ROW_TOP[r] + 68 + i * 21.6
                fig.add_artist(Line2D([fx(1029), fx(1036.5), fx(1044)], [fy(y)] * 3,
                                      color=GREYS[i], lw=0.9, marker=MARKERS[i],
                                      ms=4.3, mew=0, markevery=[1]))
                fig.text(fx(1050), fy(y + 7.5), conc, color='black', fontsize=15,
                         fontweight='normal', family=NARROW, ha='left', va='baseline')

fig.savefig('out.png', dpi=100)
